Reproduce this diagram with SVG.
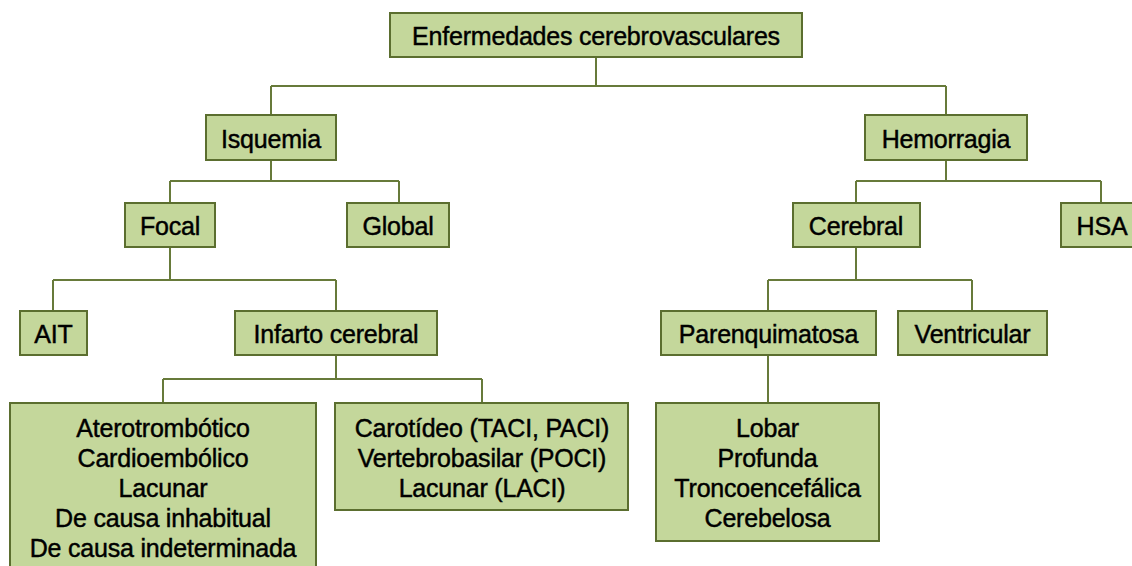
<svg xmlns="http://www.w3.org/2000/svg" width="1132" height="566" viewBox="0 0 1132 566">
<style>
.box{fill:#c4d79b;stroke:#5b6e2f;stroke-width:2}
.t{font-family:"Liberation Sans",Arial,Helvetica,sans-serif;font-size:25px;fill:#000;stroke:#000;stroke-width:0.45;text-anchor:middle;letter-spacing:-0.2px}
.c{fill:none;stroke:#677a3a;stroke-width:2}
</style>
<rect width="1132" height="566" fill="#ffffff"/>
<g id="connectors">
<path class="c" d="M596 57V86M271 86H946M271 86V115M946 86V115"/>
<path class="c" d="M271 160V181M170 181H399M170 181V203M399 181V203"/>
<path class="c" d="M946 160V181M856 181H1101M856 181V203M1101 181V203"/>
<path class="c" d="M170 247V280M53 280H336M53 280V311M336 280V311"/>
<path class="c" d="M336 355V379M163 379H482M163 379V403M482 379V403"/>
<path class="c" d="M856 247V280M768 280H972M768 280V311M972 280V311"/>
<path class="c" d="M768 355V403"/>
</g>
<g id="n-root"><rect class="box" x="390" y="13" width="412" height="44"/><text class="t" x="596" y="45">Enfermedades cerebrovasculares</text></g>
<g id="n-isquemia"><rect class="box" x="206" y="115" width="130" height="45"/><text class="t" x="271" y="148">Isquemia</text></g>
<g id="n-hemorragia"><rect class="box" x="865" y="115" width="162" height="45"/><text class="t" x="946" y="148">Hemorragia</text></g>
<g id="n-focal"><rect class="box" x="125" y="203" width="90" height="44"/><text class="t" x="170" y="235">Focal</text></g>
<g id="n-global"><rect class="box" x="347" y="203" width="102" height="44"/><text class="t" x="398" y="235">Global</text></g>
<g id="n-cerebral"><rect class="box" x="793" y="203" width="127" height="44"/><text class="t" x="856" y="235">Cerebral</text></g>
<g id="n-hsa"><rect class="box" x="1061" y="203" width="80" height="44"/><text class="t" x="1102" y="235">HSA</text></g>
<g id="n-ait"><rect class="box" x="20" y="311" width="67" height="44"/><text class="t" x="53.5" y="343">AIT</text></g>
<g id="n-infarto"><rect class="box" x="235" y="311" width="202" height="44"/><text class="t" x="336" y="343">Infarto cerebral</text></g>
<g id="n-parenquimatosa"><rect class="box" x="661" y="311" width="215" height="44"/><text class="t" x="768.5" y="343">Parenquimatosa</text></g>
<g id="n-ventricular"><rect class="box" x="898" y="311" width="149" height="44"/><text class="t" x="972.5" y="343">Ventricular</text></g>
<g id="n-etiologia"><rect class="box" x="10" y="403" width="306" height="170"/>
<text class="t" x="163" y="437">Aterotrombótico</text>
<text class="t" x="163" y="467">Cardioembólico</text>
<text class="t" x="163" y="497">Lacunar</text>
<text class="t" x="163" y="527">De causa inhabitual</text>
<text class="t" x="163" y="557">De causa indeterminada</text></g>
<g id="n-topografia"><rect class="box" x="335" y="403" width="293" height="107"/>
<text class="t" x="482" y="437">Carotídeo (TACI, PACI)</text>
<text class="t" x="482" y="467">Vertebrobasilar (POCI)</text>
<text class="t" x="482" y="497">Lacunar (LACI)</text></g>
<g id="n-localizacion"><rect class="box" x="656" y="403" width="223" height="138"/>
<text class="t" x="767.5" y="437">Lobar</text>
<text class="t" x="767.5" y="467">Profunda</text>
<text class="t" x="767.5" y="497">Troncoencefálica</text>
<text class="t" x="767.5" y="527">Cerebelosa</text></g>
</svg>
